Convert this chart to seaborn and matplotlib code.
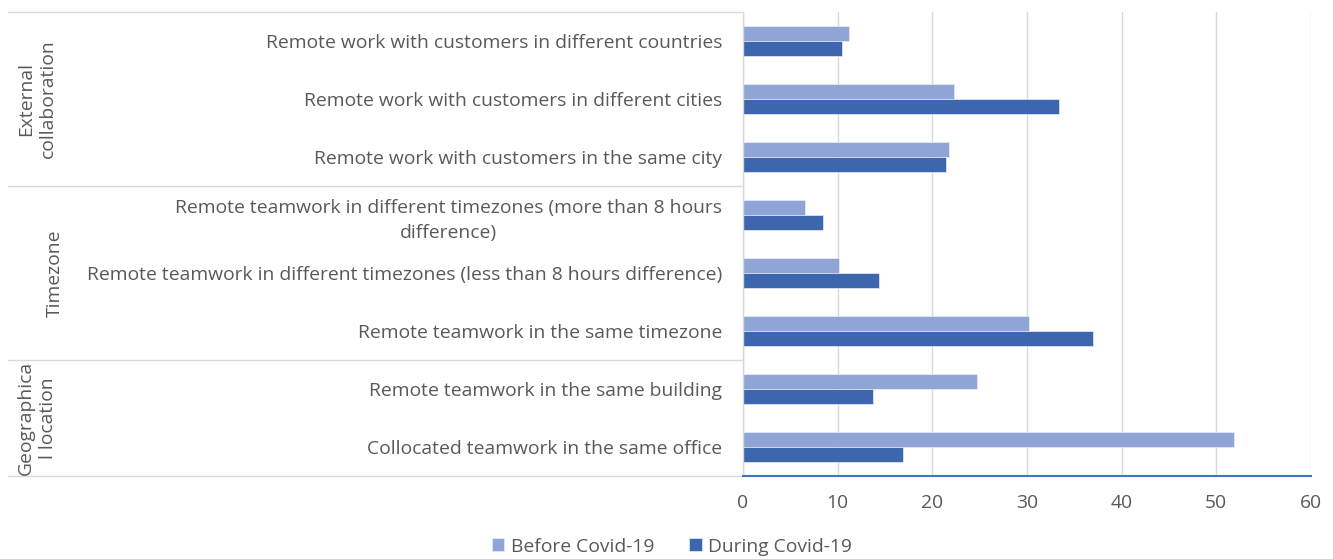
import matplotlib
matplotlib.use("Agg")
import matplotlib.pyplot as plt
import matplotlib.transforms as mtransforms
import seaborn as sns
import pandas as pd

categories = [
    "Remote work with customers in different countries",
    "Remote work with customers in different cities",
    "Remote work with customers in the same city",
    "Remote teamwork in different timezones (more than 8 hours\ndifference)",
    "Remote teamwork in different timezones (less than 8 hours difference)",
    "Remote teamwork in the same timezone",
    "Remote teamwork in the same building",
    "Collocated teamwork in the same office",
]
before = [11.2, 22.3, 21.8, 6.6, 10.1, 30.2, 24.7, 51.9]
during = [10.5, 33.4, 21.4, 8.4, 14.4, 37.0, 13.7, 16.9]
series_names = ["Before Covid-19", "During Covid-19"]
groups = ["External\ncollaboration", "Timezone", "Geographica\nl location"]
group_sizes = [3, 3, 2]
x_ticks = [0, 10, 20, 30, 40, 50, 60]

colors = ["#8FA5D5", "#3E66AE"]
text_color = "#595959"
FS = 13.9

sns.set_theme(style="white")
plt.rcParams["font.family"] = ["Open Sans", "DejaVu Sans"]

rows = []
for c, b, d in zip(categories, before, during):
    rows.append({"category": c, "period": series_names[0], "value": b})
    rows.append({"category": c, "period": series_names[1], "value": d})
df = pd.DataFrame(rows)

fig = plt.figure(figsize=(13.33, 5.59), dpi=100)
ax = fig.add_axes([743 / 1333, 1 - 476 / 559, (1311 - 743) / 1333, (476 - 12) / 559])

sns.barplot(data=df, y="category", x="value", hue="period", order=categories,
            hue_order=series_names, palette=colors, saturation=1, width=0.53,
            orient="h", edgecolor="#E8EDF7", linewidth=0.5, ax=ax, legend=True)

ax.set_xlim(0, 60)
ax.set_ylim(len(categories) - 0.5, -0.5)
ax.set_xticks(x_ticks)
ax.set_xticklabels([str(t) for t in x_ticks], fontsize=FS, color=text_color)
ax.set_yticks(range(len(categories)))
ax.set_yticklabels(categories, fontsize=FS, color=text_color,
                   multialignment="center", linespacing=1.5)
ax.tick_params(axis="x", length=0, pad=13)
ax.tick_params(axis="y", length=0, pad=15)
ax.set_xlabel("")
ax.set_ylabel("")
ax.xaxis.grid(True, color="#D9D9D9", linewidth=1)
ax.set_axisbelow(True)
for s in ["top", "right"]:
    ax.spines[s].set_visible(False)
ax.spines["left"].set_color("#D9D9D9")
ax.spines["left"].set_linewidth(1)
ax.spines["bottom"].set_color("#4472C4")
ax.spines["bottom"].set_linewidth(1.5)

# group separators and labels
trans = mtransforms.blended_transform_factory(fig.transFigure, ax.transData)
x_left = 8 / 1333
x_right = 743 / 1333
bounds = [-0.5]
acc = -0.5
for n in group_sizes:
    acc += n
    bounds.append(acc)
for bnd in bounds:
    ax.plot([x_left, x_right], [bnd, bnd], transform=trans, color="#D9D9D9",
            linewidth=1, clip_on=False)
for i, g in enumerate(groups):
    mid = (bounds[i] + bounds[i + 1]) / 2
    xpos = 37 / 1333 if "\n" in g else 55 / 1333
    ax.text(xpos, mid, g, transform=trans, rotation=90, ha="center", va="center",
            fontsize=FS, color=text_color, multialignment="center", linespacing=1.25)

# legend
handles, labels = ax.get_legend_handles_labels()
ax.get_legend().remove()
fig.legend(handles, labels, loc="center", bbox_to_anchor=(0.504, 0.022), ncol=2,
           frameon=False, fontsize=FS, handlelength=0.65, handleheight=0.65,
           handletextpad=0.35, columnspacing=1.8, labelcolor=text_color)

fig.savefig("out.png", dpi=100)
